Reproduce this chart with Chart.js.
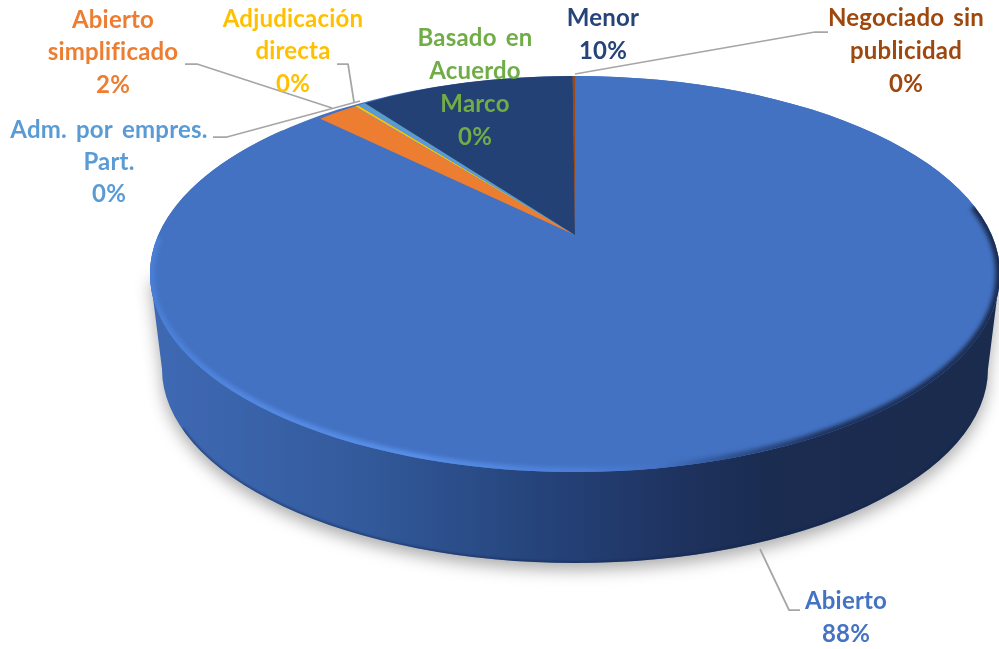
<!DOCTYPE html>
<html><head><meta charset="utf-8">
<style>html,body{margin:0;padding:0;background:#fff}canvas{display:block}</style>
<script src="https://cdn.jsdelivr.net/npm/chart.js@4"></script>
</head><body><canvas id="c" width="999" height="649"></canvas>
<script>
const categories = ['Abierto','Abierto simplificado','','Adjudicación directa','Adm. por empres. Part.','Basado en Acuerdo Marco','Menor','Negociado sin publicidad'];
const values = [87.9, 1.92, 0.05, 0.15, 0.35, 0.03, 9.5, 0.1];
const percentLabels = ['88%','2%','','0%','0%','0%','10%','0%'];
const labelLines = [['Abierto'],['Abierto','simplificado'],[],['Adjudicación','directa'],['Adm. por empres.','Part.'],['Basado en','Acuerdo','Marco'],['Menor'],['Negociado sin','publicidad']];
const sliceColors = ['#4372c3','#ed7d31','#a5a5a5','#ffc000','#5b9bd5','#70ad47','#234175','#9e480e'];
const textColors = ['#4472c4','#ed7d31','#a5a5a5','#ffc000','#5b9bd5','#70ad47','#264478','#9e480e'];

// layout (page pixels)
const FACE = {x:575, y:274, rx:425, ry:198};
const BASE = {x:575, y:369, rx:413, ry:194};
const APEX = {x:575, y:235, sx:369.6, sy:159, shear:1.6};
const LABEL_POS = [[846,601,33],[113,20,32.5],null,[293,19,32.5],[109,130,32],[475,38,33],[603,18,33],[906,18,33]];
const LEADERS = [
  [[760,549],[789,610],[800,610]],
  [[185,64],[197,64],[332,108]],
  null,
  [[337,64],[348,64],[354,102]],
  [[213,137],[227,137],[360,101]],
  null,
  null,
  [[828,32],[815,32],[575,74]]
];

const pie3d = {
  id:'pie3d',
  beforeDatasetsDraw(chart){
    const ctx = chart.ctx, arcs = chart.getDatasetMeta(0).data;
    const cx = arcs[0].x, cy = arcs[0].y, R = arcs[0].outerRadius;
    const lowerFace = () => { ctx.beginPath(); ctx.ellipse(FACE.x,FACE.y,FACE.rx,FACE.ry,0,0,Math.PI*2); };

    // side wall
    const g = ctx.createLinearGradient(150,0,1000,0);
    [[0,'#4069b4'],[0.1,'#3a64ab'],[0.25,'#335a9b'],[0.38,'#2a4c87'],[0.5,'#233f74'],[0.62,'#1f3360'],[0.72,'#1a2c50'],[1,'#1a2b4e']].forEach(s=>g.addColorStop(s[0],s[1]));
    const wall = () => {
      ctx.beginPath();
      ctx.moveTo(FACE.x-FACE.rx,FACE.y);
      ctx.lineTo(BASE.x-BASE.rx,BASE.y);
      ctx.ellipse(BASE.x,BASE.y,BASE.rx,BASE.ry,0,Math.PI,0,true);
      ctx.lineTo(FACE.x+FACE.rx,FACE.y);
      ctx.closePath();
    };
    ctx.save();
    ctx.shadowColor='rgba(0,0,0,0.32)'; ctx.shadowBlur=16; ctx.shadowOffsetY=7;
    ctx.fillStyle=g; wall(); ctx.fill();
    ctx.restore();
    ctx.save();
    wall(); ctx.clip();
    ctx.filter='blur(1px)';
    ctx.strokeStyle='rgba(15,35,80,0.5)'; ctx.lineWidth=3;
    ctx.beginPath(); ctx.ellipse(BASE.x,BASE.y,BASE.rx,BASE.ry,0,Math.PI*0.9,Math.PI*0.1,true); ctx.stroke();
    ctx.restore();

    // top face base, same colour as the largest slice
    ctx.save(); ctx.fillStyle=sliceColors[0]; lowerFace(); ctx.fill(); ctx.restore();

    // largest slice on the face ellipse
    ctx.save();
    ctx.transform(FACE.rx/R,0,0,FACE.ry/R,FACE.x-cx*FACE.rx/R,FACE.y-cy*FACE.ry/R);
    arcs[0].draw(ctx);
    ctx.restore();

    // bevel along the front edge
    const b = ctx.createLinearGradient(150,0,1000,0);
    [[0,'#4a7fd6'],[0.12,'#5489e2'],[0.3,'#5a90ea'],[0.5,'#4c80d8'],[0.6,'#4472c4'],[0.68,'#2f5290'],[0.8,'#1d3058'],[1,'#1a2b4e']].forEach(s=>b.addColorStop(s[0],s[1]));
    ctx.save();
    lowerFace(); ctx.clip();
    ctx.filter='blur(2px)';
    ctx.strokeStyle=b; ctx.lineWidth=9;
    ctx.beginPath(); ctx.ellipse(FACE.x,FACE.y,FACE.rx,FACE.ry,0,-0.35,Math.PI*1.06); ctx.stroke();
    ctx.restore();

    // small slices converge on the perspective apex
    ctx.save();
    const a=APEX.sx/R, bb=APEX.shear/R, d=APEX.sy/R;
    ctx.transform(a,bb,0,d,APEX.x-a*cx,APEX.y-bb*cx-d*cy);
    for(let i=1;i<arcs.length;i++) arcs[i].draw(ctx);
    ctx.restore();
    return false;
  },
  afterDraw(chart){
    const ctx = chart.ctx;
    ctx.save();
    ctx.strokeStyle='#a6a6a6'; ctx.lineWidth=1.75; ctx.lineJoin='round';
    LEADERS.forEach(l=>{ if(!l) return; ctx.beginPath(); l.forEach((p,i)=> i?ctx.lineTo(p[0],p[1]):ctx.moveTo(p[0],p[1])); ctx.stroke(); });
    ctx.font='bold 24px Lato'; ctx.textAlign='center'; ctx.textBaseline='middle';
    ctx.wordSpacing='3px'; ctx.letterSpacing='0.2px';
    categories.forEach((_,i)=>{
      const pos=LABEL_POS[i]; if(!pos) return;
      ctx.fillStyle=textColors[i];
      labelLines[i].concat(percentLabels[i]).forEach((t,k)=>ctx.fillText(t,pos[0],pos[1]+k*pos[2]));
    });
    ctx.restore();
  }
};

new Chart(document.getElementById('c'),{
  type:'pie',
  data:{labels:categories,datasets:[{data:values,backgroundColor:sliceColors,borderWidth:0}]},
  options:{responsive:false,animation:false,events:[],
    layout:{padding:0},
    plugins:{legend:{display:false},tooltip:{enabled:false}}},
  plugins:[pie3d]
});
</script></body></html>
